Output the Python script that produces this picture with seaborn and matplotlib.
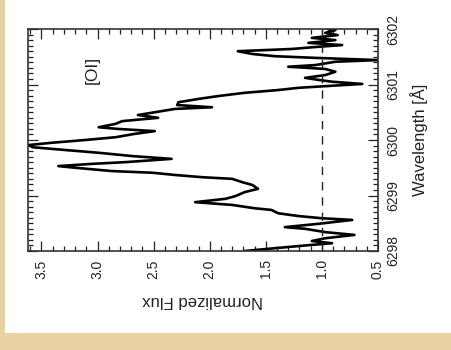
import numpy as np
import pandas as pd
import matplotlib
matplotlib.use("Agg")
import matplotlib.pyplot as plt
import seaborn as sns
from matplotlib.ticker import MultipleLocator, FixedLocator
from matplotlib.patches import Rectangle

# --- data ---
wavelength = [6298.00, 6298.05, 6298.11, 6298.14, 6298.18, 6298.23, 6298.29, 6298.34,
              6298.40, 6298.43, 6298.49, 6298.56, 6298.59, 6298.63, 6298.68, 6298.74,
              6298.77, 6298.83, 6298.88, 6298.94, 6298.99, 6299.06, 6299.12, 6299.19,
              6299.24, 6299.30, 6299.33, 6299.37, 6299.41, 6299.44, 6299.50, 6299.53,
              6299.57, 6299.60, 6299.66, 6299.71, 6299.77, 6299.82, 6299.87, 6299.91,
              6299.95, 6300.00, 6300.05, 6300.11, 6300.16, 6300.20, 6300.23, 6300.29,
              6300.34, 6300.40, 6300.45, 6300.50, 6300.56, 6300.59, 6300.63, 6300.68,
              6300.74, 6300.79, 6300.85, 6300.90, 6300.94, 6300.97, 6301.01, 6301.05,
              6301.08, 6301.12, 6301.17, 6301.23, 6301.28, 6301.32, 6301.35, 6301.41,
              6301.44, 6301.48, 6301.51, 6301.55, 6301.60, 6301.64, 6301.68, 6301.71,
              6301.75, 6301.80, 6301.84, 6301.89, 6301.93, 6301.98, 6302.00]
flux = [1.69, 1.42, 1.09, 0.91, 1.09, 0.97, 0.71, 0.97,
        1.15, 1.33, 1.03, 0.73, 1.00, 1.21, 1.39, 1.45,
        1.60, 1.80, 2.13, 1.86, 1.77, 1.69, 1.57, 1.62,
        1.71, 1.80, 2.07, 2.31, 2.51, 2.87, 3.20, 3.35,
        3.05, 2.76, 2.34, 2.69, 2.99, 3.29, 3.58, 3.61,
        3.41, 3.11, 2.84, 2.67, 2.49, 2.82, 2.99, 2.84,
        2.78, 2.46, 2.64, 2.49, 2.31, 1.98, 2.29, 2.28,
        2.10, 1.93, 1.69, 1.39, 1.21, 0.97, 0.64, 0.91,
        1.02, 1.15, 0.97, 0.88, 0.97, 1.30, 1.06, 0.88,
        0.50, 1.06, 1.42, 1.62, 1.75, 1.27, 1.03, 0.82,
        1.12, 0.88, 1.09, 0.86, 0.97, 0.88, 0.95]
continuum = 1.0
flux_ticks = [3.5, 3.0, 2.5, 2.0, 1.5, 1.0, 0.5]
wave_ticks = [6298, 6299, 6300, 6301, 6302]
line_label = "[OI]"
xlabel = "Normalized Flux"
ylabel = "Wavelength [Å]"

sns.set_theme(style="white")
plt.rcParams['font.family'] = ['Liberation Sans', 'DejaVu Sans']

W, H = 452, 350
fig = plt.figure(figsize=(W / 100, H / 100), dpi=100, facecolor='#E9D2A2')
fig.patches.append(Rectangle((5 / W, 17 / H), 1, 1, transform=fig.transFigure,
                             facecolor='white', edgecolor='none', zorder=-10))

ax = fig.add_axes([28 / W, 99 / H, 350 / W, 222 / H])
ax.set_zorder(5)
ax.set_facecolor('white')

df = pd.DataFrame({'wavelength': wavelength, 'flux': flux})
sns.lineplot(data=df, x='flux', y='wavelength', sort=False, estimator=None,
             color='black', lw=1.9, ax=ax)
ax.axvline(continuum, color='#222222', lw=1.0, ls=(0, (6, 5)))

ax.set_xlim(3.62, 0.5)
ax.set_ylim(6298, 6302)

ax.xaxis.set_major_locator(FixedLocator(flux_ticks))
ax.xaxis.set_minor_locator(MultipleLocator(0.1))
ax.yaxis.set_major_locator(FixedLocator(wave_ticks))
ax.yaxis.set_minor_locator(MultipleLocator(0.1))
ax.set_xticklabels([f"{v:.1f}" for v in flux_ticks])
ax.set_yticklabels([str(v) for v in wave_ticks])

ax.tick_params(which='both', direction='in', top=True, bottom=True, left=True, right=True,
               labelleft=False, labelright=True, color='#222222', width=0.9)
ax.tick_params(which='major', length=7, labelsize=10, pad=6)
ax.tick_params(which='minor', length=3.5)
plt.setp(ax.get_xticklabels(), rotation=90, ha='center', va='top', color='#222222')
plt.setp(ax.get_yticklabels(), rotation=90, ha='left', va='center', color='#222222')

for s in ax.spines.values():
    s.set_visible(True)
    s.set_color('#333333')
    s.set_linewidth(1.2)

ax.set_xlabel(xlabel, rotation=180, fontsize=12, color='#222222', labelpad=10)
ax.yaxis.set_label_position('right')
ax.set_ylabel(ylabel, rotation=90, fontsize=12, color='#222222', labelpad=7)

ax.text(3.05, 6301.26, line_label, rotation=90, fontsize=12.5, ha='center', va='center',
        color='#222222')

fig.savefig('out.png', dpi=100, facecolor=fig.get_facecolor())
